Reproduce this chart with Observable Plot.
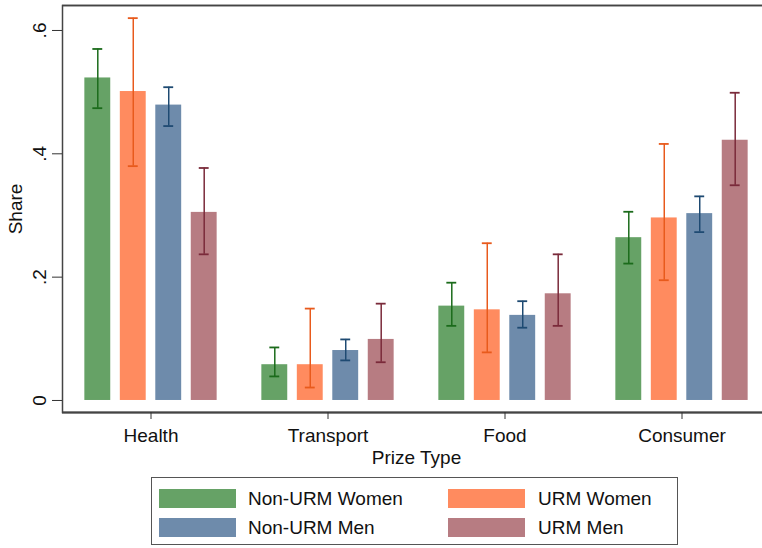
<!DOCTYPE html>
<html>
<head>
<meta charset="utf-8">
<script src="https://cdn.jsdelivr.net/npm/d3@7"></script>
<script src="https://cdn.jsdelivr.net/npm/@observablehq/plot@0.6"></script>
<style>
  html, body { margin: 0; padding: 0; background: #fff; overflow: hidden; }
  body { width: 762px; height: 548px; position: relative; font-family: "Liberation Sans", Arial, sans-serif; }
  #chart { position: absolute; left: 0; top: 0; width: 780px; }
  #chart svg { max-width: none !important; }
  #legend { position: absolute; left: 151px; top: 477px; width: 527px; height: 68px; border: 1.5px solid #555; box-sizing: border-box; }
  .sw { position: absolute; width: 77px; height: 19px; }
  .lb { position: absolute; font-size: 19px; color: #111; line-height: 19px; white-space: nowrap; }
</style>
</head>
<body>
<div id="chart"></div>
<div id="legend"></div>
<script>
const categories = ["Health", "Transport", "Food", "Consumer"];
const groups = ["Non-URM Women", "URM Women", "Non-URM Men", "URM Men"];

const shareNonUrmWomen = [0.523, 0.058, 0.153, 0.264];
const lowNonUrmWomen   = [0.474, 0.039, 0.121, 0.222];
const highNonUrmWomen  = [0.570, 0.086, 0.191, 0.306];

const shareUrmWomen = [0.501, 0.058, 0.147, 0.296];
const lowUrmWomen   = [0.380, 0.021, 0.078, 0.195];
const highUrmWomen  = [0.620, 0.149, 0.255, 0.416];

const shareNonUrmMen = [0.479, 0.081, 0.138, 0.303];
const lowNonUrmMen   = [0.445, 0.065, 0.118, 0.273];
const highNonUrmMen  = [0.508, 0.099, 0.161, 0.331];

const shareUrmMen = [0.305, 0.099, 0.173, 0.422];
const lowUrmMen   = [0.237, 0.062, 0.121, 0.349];
const highUrmMen  = [0.377, 0.157, 0.237, 0.499];

const yTicks = [0, 0.2, 0.4, 0.6];

const fillColors  = ["#66a266", "#ff8b5f", "#6e8bab", "#b77c82"];
const errorColors = ["#1b6b1b", "#e85a1c", "#1e4a72", "#7a2a3a"];

const seriesShare = [shareNonUrmWomen, shareUrmWomen, shareNonUrmMen, shareUrmMen];
const seriesLow   = [lowNonUrmWomen, lowUrmWomen, lowNonUrmMen, lowUrmMen];
const seriesHigh  = [highNonUrmWomen, highUrmWomen, highNonUrmMen, highUrmMen];

const rows = [];
groups.forEach((g, gi) => {
  categories.forEach((c, ci) => {
    rows.push({category: c, group: g, value: seriesShare[gi][ci], low: seriesLow[gi][ci], high: seriesHigh[gi][ci]});
  });
});

const yMin = -0.0195, yMax = 0.6405;

const groupMarks = groups.flatMap((g, gi) => {
  const data = rows.filter(d => d.group === g);
  return [
    Plot.barY(data, {fx: "category", x: "group", y1: 0, y2: "value", fill: fillColors[gi]}),
    Plot.ruleX(data, {fx: "category", x: "group", y1: "low", y2: "high", stroke: errorColors[gi], strokeWidth: 1.5}),
    Plot.tickY(data, {fx: "category", x: "group", y: "low", stroke: errorColors[gi], strokeWidth: 1.8, insetLeft: 8, insetRight: 8}),
    Plot.tickY(data, {fx: "category", x: "group", y: "high", stroke: errorColors[gi], strokeWidth: 1.8, insetLeft: 8, insetRight: 8})
  ];
});

const fmt = d => d === 0 ? "0" : d3.format(".1f")(d).replace(/^0/, "");

const chart = Plot.plot({
  width: 780,
  height: 475,
  marginLeft: 60,
  marginRight: 9,
  marginTop: 5,
  marginBottom: 63,
  style: {fontFamily: "'Liberation Sans', Arial, sans-serif", fontSize: "19px", color: "#111", background: "#fff", maxWidth: "none"},
  fx: {domain: categories, padding: 0},
  x: {domain: groups, paddingInner: 0.27, paddingOuter: 0.63, round: false, axis: null},
  y: {domain: [yMin, yMax], axis: null},
  marks: [
    ...groupMarks,
    Plot.ruleY([yMax], {stroke: "#9a9a9a", strokeWidth: 2}),
    Plot.ruleY([yMin], {stroke: "#333", strokeWidth: 2}),
    Plot.frame({facet: "super", stroke: "#444", strokeWidth: 1.5}),
    Plot.axisY({
      ticks: yTicks, tickFormat: fmt, tickSize: 10, tickPadding: 7, tickRotate: -90,
      fontSize: 19, label: "Share", labelAnchor: "center", labelArrow: "none", labelOffset: 54,
      stroke: "#333"
    }),
    Plot.axisFx({
      anchor: "bottom", tickSize: 7, tickPadding: 9, fontSize: 19,
      label: "Prize Type", labelAnchor: "center", labelArrow: "none", labelOffset: 51,
      stroke: "#333"
    })
  ]
});
document.getElementById("chart").appendChild(chart);

// Legend
const legend = document.getElementById("legend");
const legendPos = [
  {sx: 7, tx: 96, y: 11},
  {sx: 296, tx: 386, y: 11},
  {sx: 7, tx: 96, y: 40},
  {sx: 296, tx: 386, y: 40}
];
groups.forEach((g, gi) => {
  const p = legendPos[gi];
  const sw = document.createElement("div");
  sw.className = "sw";
  sw.style.left = p.sx + "px";
  sw.style.top = p.y + "px";
  sw.style.background = fillColors[gi];
  legend.appendChild(sw);
  const lb = document.createElement("div");
  lb.className = "lb";
  lb.style.left = p.tx + "px";
  lb.style.top = (p.y) + "px";
  lb.textContent = g;
  legend.appendChild(lb);
});
</script>
</body>
</html>
